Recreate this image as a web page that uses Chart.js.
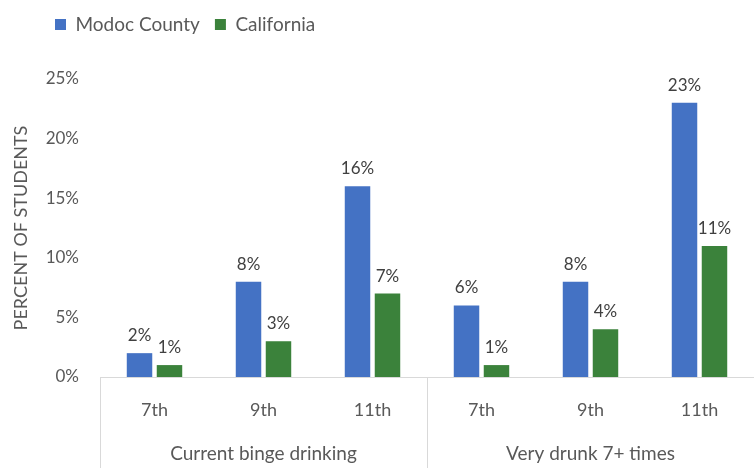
<!DOCTYPE html>
<html>
<head>
<meta charset="utf-8">
<script src="https://cdn.jsdelivr.net/npm/chart.js@4/dist/chart.umd.min.js"></script>
<style>
  html, body { margin: 0; padding: 0; background: #fff; }
  #wrap { width: 754px; height: 468px; }
</style>
</head>
<body>
<div id="wrap"><canvas id="chart"></canvas></div>
<script>
const grades = ['7th', '9th', '11th', '7th', '9th', '11th']
const groups = ['Current binge drinking', 'Very drunk 7+ times']
const modoc = [2, 8, 16, 6, 8, 23]
const california = [1, 3, 7, 1, 4, 11]
const yMax = 25
const yStep = 5

const FONT = 'Lato'
const textGrey = '#595959'

// push legend right and leave room under it
const legendPlace = {
  id: 'legendPlace',
  beforeInit(chart) {
    const fit = chart.legend.fit
    chart.legend.fit = function () {
      fit.call(this)
      this.height += 35
    }
  },
  afterLayout(chart) {
    chart.legend.left += 40
    chart.legend.right += 40
  },
}

// value labels above bars
const barValues = {
  id: 'barValues',
  afterDatasetsDraw(chart) {
    const ctx = chart.ctx
    ctx.save()
    ctx.font = `17px ${FONT}`
    ctx.fillStyle = '#404040'
    ctx.textAlign = 'center'
    ctx.textBaseline = 'bottom'
    chart.data.datasets.forEach((ds, i) => {
      chart.getDatasetMeta(i).data.forEach((bar, j) => {
        ctx.fillText(ds.data[j] + '%', bar.x, bar.y - 9)
      })
    })
    ctx.restore()
  },
}

// vertical separators between the two groups
const groupLines = {
  id: 'groupLines',
  afterDraw(chart) {
    const { ctx, chartArea, scales } = chart
    const x2 = scales.x2
    const step = (x2.right - x2.left) / groups.length
    ctx.save()
    ctx.strokeStyle = '#d9d9d9'
    ctx.lineWidth = 1
    for (let i = 0; i <= groups.length; i++) {
      const x = Math.round(x2.left + step * i) + 0.5
      ctx.beginPath()
      ctx.moveTo(x, chartArea.bottom)
      ctx.lineTo(x, chart.height)
      ctx.stroke()
    }
    ctx.restore()
  },
}

const ctx = document.getElementById('chart').getContext('2d')
const myChart = new Chart(ctx, {
  type: 'bar',
  data: {
    labels: grades,
    datasets: [
      {
        label: 'Modoc County',
        data: modoc,
        backgroundColor: '#4472c4',
        categoryPercentage: 0.55,
        barPercentage: 0.85,
      },
      {
        label: 'California',
        data: california,
        backgroundColor: '#3b823b',
        categoryPercentage: 0.55,
        barPercentage: 0.85,
      },
    ],
  },
  options: {
    responsive: true,
    maintainAspectRatio: false,
    devicePixelRatio: 1,
    animation: false,
    layout: { padding: 0 },
    scales: {
      x: {
        grid: { display: false, drawTicks: false },
        border: { display: true, color: '#d9d9d9' },
        ticks: {
          color: textGrey,
          padding: 22,
          font: { family: FONT, size: 18 },
        },
        afterFit: (s) => { s.height = 52 },
      },
      x2: {
        type: 'category',
        labels: groups,
        position: 'bottom',
        offset: true,
        grid: { display: false, drawTicks: false },
        border: { display: false },
        ticks: {
          color: textGrey,
          padding: 13,
          font: { family: FONT, size: 19 },
        },
        afterFit: (s) => { s.height = 39 },
      },
      y: {
        min: 0,
        max: yMax,
        grid: { display: false, drawTicks: false },
        border: { display: false },
        ticks: {
          stepSize: yStep,
          color: textGrey,
          padding: 21,
          font: { family: FONT, size: 17 },
          callback: (v) => v + '%',
        },
        title: {
          display: true,
          text: 'PERCENT OF STUDENTS',
          color: textGrey,
          font: { family: FONT, size: 18 },
          padding: { top: 10, bottom: 0 },
        },
        afterFit: (s) => { s.width = 100 },
      },
    },
    plugins: {
      legend: {
        position: 'top',
        align: 'start',
        labels: {
          boxWidth: 11,
          boxHeight: 11,
          padding: 15,
          color: textGrey,
          font: { family: FONT, size: 19 },
        },
      },
      tooltip: { enabled: false },
    },
  },
  plugins: [legendPlace, barValues, groupLines],
})
</script>
</body>
</html>
